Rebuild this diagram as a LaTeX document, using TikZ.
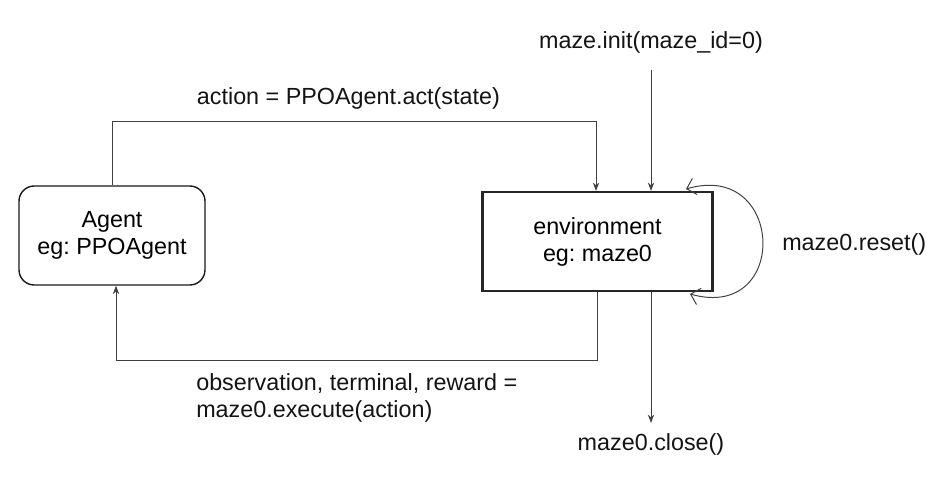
\documentclass[tikz,border=0pt]{standalone}
\usepackage{fontspec}
\setmainfont{Liberation Sans}
\usetikzlibrary{arrows.meta}
\frenchspacing

\tikzset{
    agentbox/.style={draw=black!90, line width=1pt, rounded corners=0.38cm, minimum width=4.65cm, minimum height=2.475cm, align=center},
    envbox/.style={draw=black!85, line width=1.5pt, minimum width=5.75cm, minimum height=2.475cm, align=center},
    codetext/.style={inner sep=0pt, text=black!92},
    flow/.style={draw=black!75, line width=0.7pt}
}

\begin{document}
\begin{tikzpicture}[x=1cm, y=1cm, >={Stealth[length=6pt, width=4.5pt]}, font=\fontsize{16.6}{19.2}\selectfont]
                \useasboundingbox (0,0) rectangle (23.475,12.2);

                % Boxes
                \node [agentbox] (agent) at (2.8,6.3125) {Agent\\eg: PPOAgent};
                \node [envbox] (env) at (14.9375,6.1625) {environment\\eg: maze0};

                % Labels
                \node [codetext] (initlabel) at (16.275,11.15) {maze.init(maze\_id=0)};
                \node [codetext] (actlabel) at (8.71,9.75) {action = PPOAgent.act(state)};
                \node [codetext, anchor=west, align=left] (obslabel) at (4.9,2.25) {observation, terminal, reward =\\maze0.execute(action)};
                \node [codetext, anchor=west] (resetlabel) at (19.55,6.1) {maze0.reset()};
                \node [codetext] (closelabel) at (16.275,1.1) {maze0.close()};

                % Helper points
                \coordinate (acttop) at (14.9,9.175);
                \coordinate (obsbottom) at (2.9,3.2);
                \coordinate (inittop) at (16.275,10.45);
                \coordinate (closeend) at (16.275,1.625);

                % Arrows
                \draw [flow, ->] (agent.north) |- (acttop) -- (acttop |- env.north);
                \draw [flow, ->] (env.south) |- (obsbottom) -- (agent.south -| obsbottom);
                \draw [flow, ->] (inittop) -- (inittop |- env.north);
                \draw [flow, ->] (env.south -| closeend) -- (closeend);
                \draw [flow, {Straight Barb[length=6pt]}-{Straight Barb[length=6pt]}] (17.15,7.475) .. controls (19.625,8.2) and (19.75,4.15) .. (17.25,4.85);
            \end{tikzpicture}
\end{document}
